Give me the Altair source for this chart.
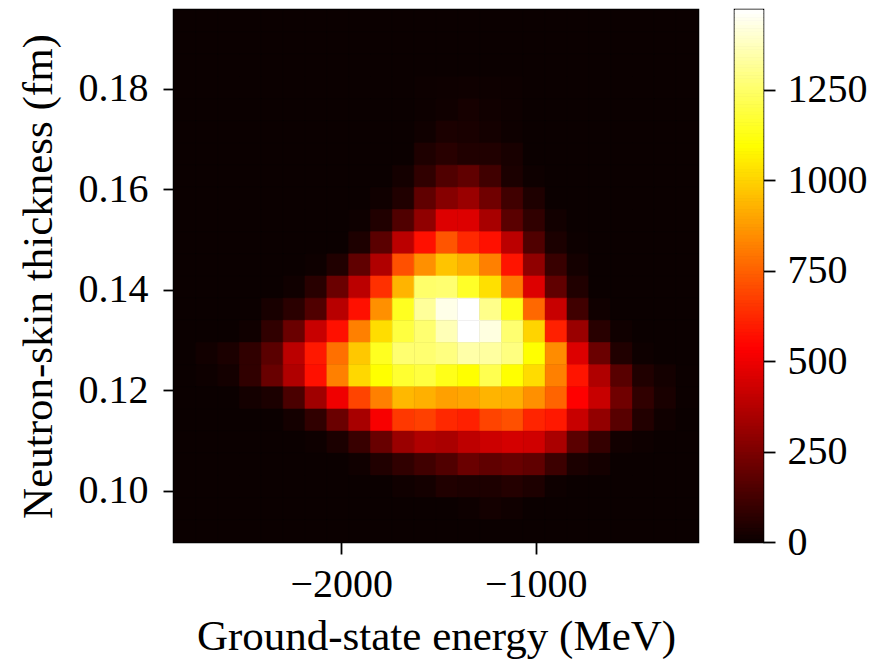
import altair as alt
import pandas as pd
import numpy as np

# 2D histogram: ground-state energy (MeV) vs neutron-skin thickness (fm)
x_min, x_max = -2861.0, -165.0
y_min, y_max = 0.0898, 0.1957
n_bins = 24

# counts per cell, rows listed from the top (largest thickness) to the bottom
counts_by_row = [
    [0, 0, 0, 0, 0, 0, 0, 0, 0, 0, 0, 0, 0, 0, 0, 0, 0, 0, 0, 0, 0, 0, 0, 0],
    [0, 0, 0, 0, 0, 0, 0, 0, 0, 0, 0, 0, 0, 0, 0, 0, 0, 0, 0, 0, 0, 0, 0, 0],
    [0, 0, 0, 0, 0, 0, 0, 0, 0, 0, 0, 0, 0, 0, 0, 0, 0, 0, 0, 0, 0, 0, 0, 0],
    [0, 0, 0, 0, 0, 0, 0, 0, 0, 0, 0, 4, 6, 8, 6, 4, 0, 0, 0, 0, 0, 0, 0, 0],
    [0, 0, 0, 0, 0, 0, 0, 0, 0, 0, 0, 5, 10, 25, 14, 7, 0, 0, 0, 0, 0, 0, 0, 0],
    [0, 0, 0, 0, 0, 0, 0, 0, 0, 0, 0, 10, 35, 30, 20, 7, 0, 0, 0, 0, 0, 0, 0, 0],
    [0, 0, 0, 0, 0, 0, 0, 0, 0, 0, 0, 42, 64, 47, 47, 29, 0, 0, 0, 0, 0, 0, 0, 0],
    [0, 0, 0, 0, 0, 0, 0, 0, 0, 0, 20, 82, 152, 187, 117, 35, 7, 0, 0, 0, 0, 0, 0, 0],
    [0, 0, 0, 0, 0, 0, 0, 0, 0, 12, 47, 187, 270, 315, 223, 117, 42, 0, 0, 0, 0, 0, 0, 0],
    [0, 0, 0, 0, 0, 0, 0, 0, 7, 47, 152, 293, 462, 462, 346, 174, 82, 16, 0, 0, 0, 0, 0, 0],
    [0, 0, 0, 0, 0, 0, 0, 0, 39, 174, 387, 572, 724, 625, 572, 387, 152, 35, 5, 0, 0, 0, 0, 0],
    [0, 0, 0, 0, 0, 0, 7, 47, 187, 363, 713, 853, 967, 923, 818, 581, 293, 100, 20, 0, 0, 0, 0, 0],
    [0, 0, 0, 0, 0, 12, 64, 210, 387, 642, 932, 1252, 1261, 1155, 1029, 800, 462, 187, 47, 0, 0, 0, 0, 0],
    [0, 0, 0, 2, 29, 68, 152, 381, 572, 853, 1144, 1322, 1436, 1470, 1299, 1132, 765, 416, 117, 12, 0, 0, 0, 0],
    [0, 0, 0, 12, 82, 210, 416, 572, 818, 1022, 1191, 1261, 1365, 1470, 1425, 1261, 1002, 607, 315, 64, 12, 0, 0, 0],
    [0, 16, 35, 82, 174, 387, 590, 783, 976, 1144, 1261, 1261, 1284, 1343, 1331, 1284, 1097, 844, 462, 210, 47, 7, 0, 0],
    [0, 7, 20, 82, 205, 363, 572, 818, 1011, 1097, 1167, 1191, 1132, 1097, 1214, 1097, 1020, 818, 581, 363, 170, 47, 20, 2],
    [0, 0, 0, 20, 35, 139, 328, 504, 686, 818, 941, 923, 888, 901, 932, 923, 853, 757, 537, 416, 223, 82, 30, 2],
    [0, 0, 0, 0, 0, 20, 82, 210, 346, 521, 660, 677, 625, 607, 686, 713, 616, 590, 416, 300, 170, 50, 10, 0],
    [0, 0, 0, 0, 0, 0, 7, 35, 100, 205, 315, 363, 350, 394, 425, 442, 433, 350, 174, 90, 16, 7, 0, 0],
    [0, 0, 0, 0, 0, 0, 0, 0, 12, 47, 82, 117, 152, 210, 187, 205, 187, 108, 35, 20, 0, 0, 0, 0],
    [0, 0, 0, 0, 0, 0, 0, 0, 0, 0, 12, 20, 47, 39, 39, 56, 39, 7, 0, 0, 0, 0, 0, 0],
    [0, 0, 0, 0, 0, 0, 0, 0, 0, 0, 0, 0, 0, 7, 20, 12, 0, 0, 0, 0, 0, 0, 0, 0],
    [0, 0, 0, 0, 0, 0, 0, 0, 0, 0, 0, 0, 0, 0, 0, 0, 0, 0, 0, 0, 0, 0, 0, 0],
]

x_ticks = [-2000, -1000]
y_ticks = [0.10, 0.12, 0.14, 0.16, 0.18]
cbar_ticks = [0, 250, 500, 750, 1000, 1250]
v_max = 1470

x_edges = np.linspace(x_min, x_max, n_bins + 1)
y_edges = np.linspace(y_max, y_min, n_bins + 1)  # top to bottom

records = []
for r, row in enumerate(counts_by_row):
    for c, v in enumerate(row):
        records.append({
            "x0": x_edges[c], "x1": x_edges[c + 1],
            "y0": y_edges[r + 1], "y1": y_edges[r],
            "count": v,
        })
df = pd.DataFrame(records)

cb_steps = np.linspace(0, v_max, 148)
cbar = pd.DataFrame({
    "lo": cb_steps[:-1], "hi": cb_steps[1:],
    "mid": (cb_steps[:-1] + cb_steps[1:]) / 2,
    "a": 0.0, "b": 1.0,
})

FONT = "Liberation Serif"
hot = dict(domain=[0, 536.6, 1096.7, v_max],
           range=["#0b0000", "#ff0000", "#ffff00", "#ffffff"],
           interpolate="rgb", clamp=True)

heat = alt.Chart(df).mark_rect(strokeWidth=0.6).encode(
    x=alt.X("x0:Q", scale=alt.Scale(domain=[x_min, x_max], nice=False, zero=False),
            axis=alt.Axis(values=x_ticks, format="d", title="Ground-state energy (MeV)",
                          grid=False, domain=False, tickSize=12, tickWidth=1.8,
                          tickColor="black", labelPadding=10, titlePadding=11,
                          labelFontSize=40, titleFontSize=43)),
    x2="x1:Q",
    y=alt.Y("y0:Q", scale=alt.Scale(domain=[y_min, y_max], nice=False, zero=False),
            axis=alt.Axis(values=y_ticks, format=".2f", title="Neutron-skin thickness (fm)",
                          grid=False, domain=False, tickSize=11, tickWidth=1.8,
                          tickColor="black", labelPadding=15, titlePadding=18,
                          labelFontSize=40, titleFontSize=43)),
    y2="y1:Q",
    color=alt.Color("count:Q", scale=alt.Scale(**hot), legend=None),
    stroke=alt.Stroke("count:Q", scale=alt.Scale(**hot), legend=None),
).properties(width=524, height=532)

bar = alt.Chart(cbar).mark_rect(strokeWidth=1).encode(
    x=alt.X("a:Q", scale=alt.Scale(domain=[0, 1], nice=False, zero=False), axis=None),
    x2="b:Q",
    y=alt.Y("lo:Q", scale=alt.Scale(domain=[0, v_max], nice=False, zero=False),
            axis=alt.Axis(orient="right", values=cbar_ticks, format="d", title=None,
                          grid=False, domain=False, tickSize=12, tickWidth=1.8,
                          tickColor="black", labelPadding=12, labelFontSize=40)),
    y2="hi:Q",
    color=alt.Color("mid:Q", scale=alt.Scale(**hot), legend=None),
    stroke=alt.Stroke("mid:Q", scale=alt.Scale(**hot), legend=None),
).properties(width=28, height=532)

chart = alt.hconcat(heat, bar, spacing=33).properties(
    padding={"left": 15, "top": 8, "right": 0, "bottom": 0},
    background="white",
).configure_view(
    stroke="black", strokeWidth=2.5, fill="#0b0000"
).configure_axis(
    labelFont=FONT, titleFont=FONT, labelColor="black", titleColor="black",
    titleFontWeight="normal",
)

chart.save("out.html", embed_options={"renderer": "svg", "actions": False})
